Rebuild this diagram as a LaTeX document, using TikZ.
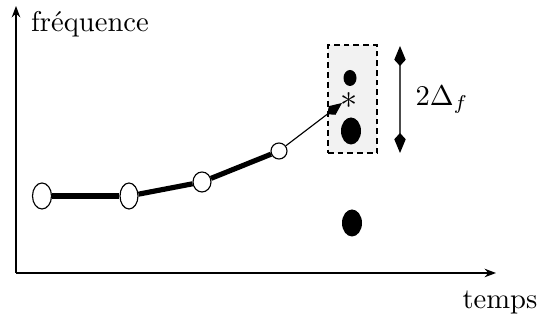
\documentclass[tikz,border=0pt]{standalone}
\usetikzlibrary{arrows.meta,shapes.geometric}
\tikzset{kitehead/.tip={Kite[length=7pt,width=4pt,inset=2.2pt,fill=black,color=black]}}
\begin{document}
\begin{tikzpicture}[x=0.35pt,y=-0.35pt,
  axis/.style={line width=0.5pt,-{Stealth[length=4pt,width=3pt]}},
  openpt/.style={ellipse,draw,fill=white,line width=0.4pt,inner sep=0pt},
  blackpt/.style={ellipse,fill=black,inner sep=0pt},
  thickline/.style={line width=1.8pt},
  lbl/.style={inner sep=0pt,font=\fontsize{10}{12}\selectfont}
]
\useasboundingbox (0,0) rectangle (538,320);
% axes
\coordinate (O) at (16,273);
\coordinate (Ytop) at (16,6);
\coordinate (Xend) at (496,273);
\draw[axis] (O) -- (Ytop);
\draw[axis] (O) -- (Xend);
\node[lbl] (fq) at (90,24) {fréquence};
\node[lbl] (tp) at (500,302) {temps};
% box
\node[draw,dash pattern=on 2pt off 1.4pt,fill=gray!10,line width=0.4pt,minimum width=49*0.35pt,minimum height=108*0.35pt,inner sep=0pt] (box) at (352.5,99) {};
% black points
\node[blackpt,minimum width=13*0.35pt,minimum height=16*0.35pt] (b1) at (350,78) {};
\node[blackpt,minimum width=20*0.35pt,minimum height=27*0.35pt] (b2) at (351,131) {};
\node[blackpt,minimum width=20*0.35pt,minimum height=27*0.35pt] (b3) at (352,223) {};
\node[inner sep=0pt,font=\fontsize{12}{14}\selectfont] (st) at (349,101) {$*$};
% open points
\node[openpt,minimum width=19*0.35pt,minimum height=26*0.35pt] (p1) at (42,196) {};
\node[openpt,minimum width=18*0.35pt,minimum height=26*0.35pt] (p2) at (129,196) {};
\node[openpt,minimum width=18*0.35pt,minimum height=20*0.35pt] (p3) at (202,182) {};
\node[openpt,minimum width=16*0.35pt,minimum height=16*0.35pt] (p4) at (279,151) {};
\draw[thickline] (p1) -- (p2);
\draw[thickline] (p2) -- (p3);
\draw[thickline] (p3) -- (p4);
\coordinate (tip) at (342,103);
\draw[line width=0.4pt,-{Kite[length=6.5pt,width=3.8pt,inset=2.2pt]}] (p4) -- (tip);
% double arrow
\coordinate (dtop) at (400,46);
\coordinate (dbot) at (400,153);
\draw[line width=0.5pt,draw=black!70,{kitehead}-{kitehead}] (dtop) -- (dbot);
\node[lbl] (delta) at (442,100) {$2\Delta_f$};
\end{tikzpicture}
\end{document}
